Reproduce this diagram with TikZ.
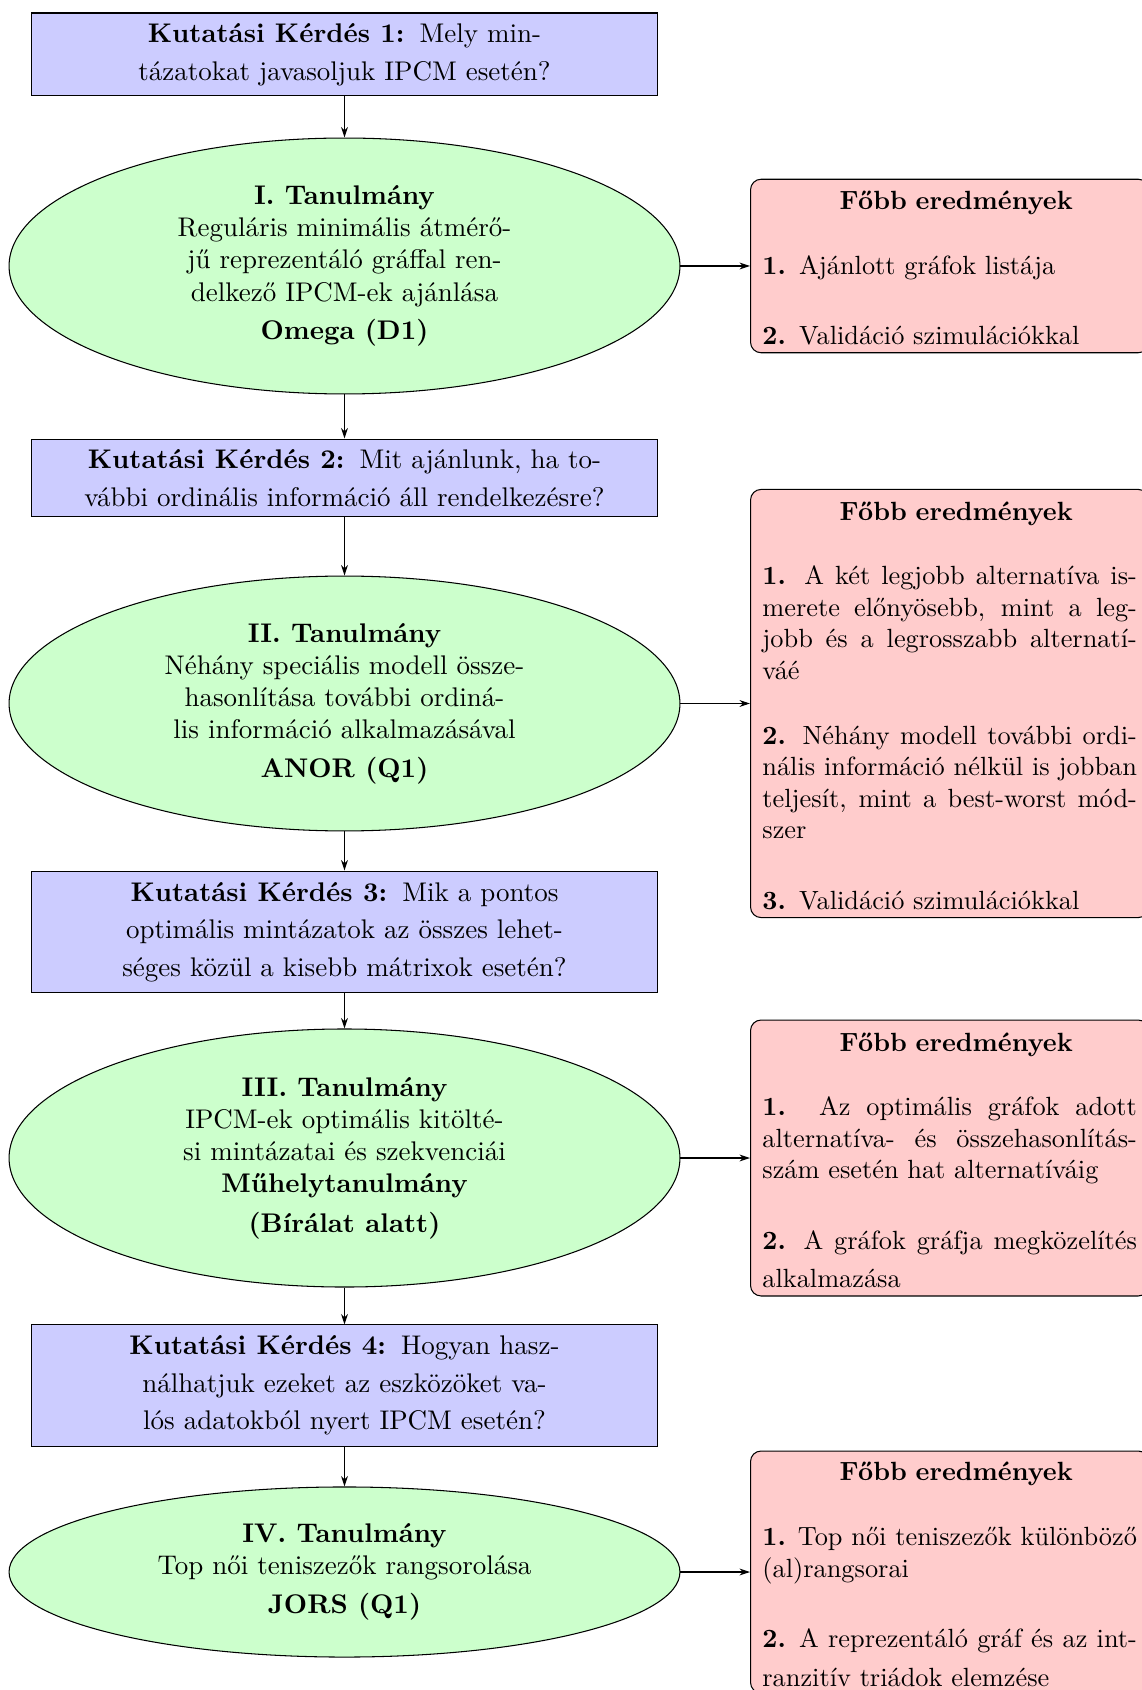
\documentclass[tikz,border=0pt]{standalone}
\usepackage{fontspec}
\usetikzlibrary{shapes.geometric,arrows.meta}
\newlength\rw \setlength\rw{5cm}
\newcommand\jl[1]{\makebox[\rw][s]{\spaceskip=0pt\xspaceskip=0pt #1}}
\newcommand\rtitle{\makebox[\rw]{\rule{0pt}{8.8pt}\hspace{5pt}\textbf{Főbb eredmények}}}
\newcommand\lft{\fontsize{10.25pt}{12.2pt}\selectfont}
\begin{document}
\begin{tikzpicture}[x=0.3798pt,y=-0.3798pt,
  qbox/.style={draw, fill=blue!20, rectangle, minimum width=237.4pt, align=center, inner sep=0pt, font=\lft},
  study/.style={draw, fill=green!20, ellipse, minimum width=254.8pt, align=center, inner sep=0pt, font=\lft},
  res/.style={draw, fill=red!20, rectangle, rounded corners=4pt, text width=5cm, align=left, inner xsep=4.5pt, inner ysep=0pt, anchor=west},
  arr/.style={-{Stealth[length=4pt,width=2.6pt]}}]
\useasboundingbox (0,0) rectangle (1141,1690);

\node[qbox, minimum height=31.5pt] (b1) at (344.5,54.5)
  {\textbf{Kutatási Kérdés 1:}\hspace{1.2pt} Mely min-\\[2.1pt]tázatokat javasoljuk IPCM esetén?};
\node[study, minimum height=97.2pt] (e1) at (344.5,266)
  {\textbf{I. Tanulmány}\\Reguláris minimális átmérő-\\jű reprezentáló gráffal ren-\\delkező IPCM-ek ajánlása\\[2.4pt]\textbf{Omega (D1)}};
\node[res, minimum height=65.9pt] (r1) at (750,266)
  {\rtitle\\[12.5pt]
   \textbf{1.} Ajánlott gráfok listája\\[14.8pt]
   \textbf{2.} Validáció szimulációkkal};

\node[qbox, minimum height=29.6pt] (b2) at (344.5,478)
  {\textbf{Kutatási Kérdés 2:}\hspace{1.2pt} Mit ajánlunk, ha to-\\[2.1pt]vábbi ordinális információ áll rendelkezésre?};
\node[study, minimum height=96.8pt] (e2) at (344.5,703.5)
  {\textbf{II. Tanulmány}\\Néhány speciális modell össze-\\hasonlítása további ordiná-\\lis információ alkalmazásával\\[2.5pt]\textbf{ANOR (Q1)}};
\node[res, minimum height=162.6pt] (r2) at (750,703.5)
  {\rtitle\\[12.5pt]
   \jl{\textbf{1.} A két legjobb alternatíva is-}\\
   \jl{merete előnyösebb, mint a leg-}\\
   \jl{jobb és a legrosszabb alternatí-}\\
   váé\\[12.5pt]
   \jl{\textbf{2.} Néhány modell további ordi-}\\
   \jl{nális információ nélkül is jobban}\\
   \jl{teljesít, mint a best-worst mód-}\\
   szer\\[14.8pt]
   \textbf{3.} Validáció szimulációkkal};

\node[qbox, minimum height=46.3pt] (b3) at (344.5,932)
  {\textbf{Kutatási Kérdés 3:}\hspace{1.2pt} Mik a pontos\\[2.1pt]optimális mintázatok az összes lehet-\\[2.1pt]séges közül a kisebb mátrixok esetén?};
\node[study, minimum height=98pt] (e3) at (344.5,1158)
  {\textbf{III. Tanulmány}\\IPCM-ek optimális kitölté-\\si mintázatai és szekvenciái\\\textbf{Műhelytanulmány}\\[2.8pt]\textbf{(Bírálat alatt)}};
\node[res, minimum height=104.8pt] (r3) at (750,1158)
  {\rtitle\\[12.5pt]
   \jl{\textbf{1.} Az optimális gráfok adott}\\
   \jl{alternatíva- és összehasonlítás-}\\
   szám esetén hat alternatíváig\\[14.8pt]
   \jl{\textbf{2.} A gráfok gráfja megközelítés}\\[2.6pt]
   alkalmazása};

\node[qbox, minimum height=46pt] (b4) at (344.5,1385.5)
  {\textbf{Kutatási Kérdés 4:}\hspace{1.2pt} Hogyan hasz-\\[2.1pt]nálhatjuk ezeket az eszközöket va-\\[2.1pt]lós adatokból nyert IPCM esetén?};
\node[study, minimum height=64.6pt] (e4) at (344.5,1572)
  {\textbf{IV. Tanulmány}\\Top női teniszezők rangsorolása\\[2.5pt]\textbf{JORS (Q1)}};
\node[res, minimum height=91.9pt] (r4) at (750,1572)
  {\rtitle\\[12.5pt]
   \jl{\textbf{1.} Top női teniszezők különböző}\\
   (al)rangsorai\\[14.8pt]
   \jl{\textbf{2.} A reprezentáló gráf és az int-}\\[2.6pt]
   ranzitív triádok elemzése};

\draw[arr] (b1) -- (e1);
\draw[arr] (e1) -- (b2);
\draw[arr] (b2) -- (e2);
\draw[arr] (e2) -- (b3);
\draw[arr] (b3) -- (e3);
\draw[arr] (e3) -- (b4);
\draw[arr] (b4) -- (e4);
\draw[arr] (e1.east) -- (r1.west);
\draw[arr] (e2.east) -- (r2.west);
\draw[arr] (e3.east) -- (r3.west);
\draw[arr] (e4.east) -- (r4.west);
\end{tikzpicture}
\end{document}
